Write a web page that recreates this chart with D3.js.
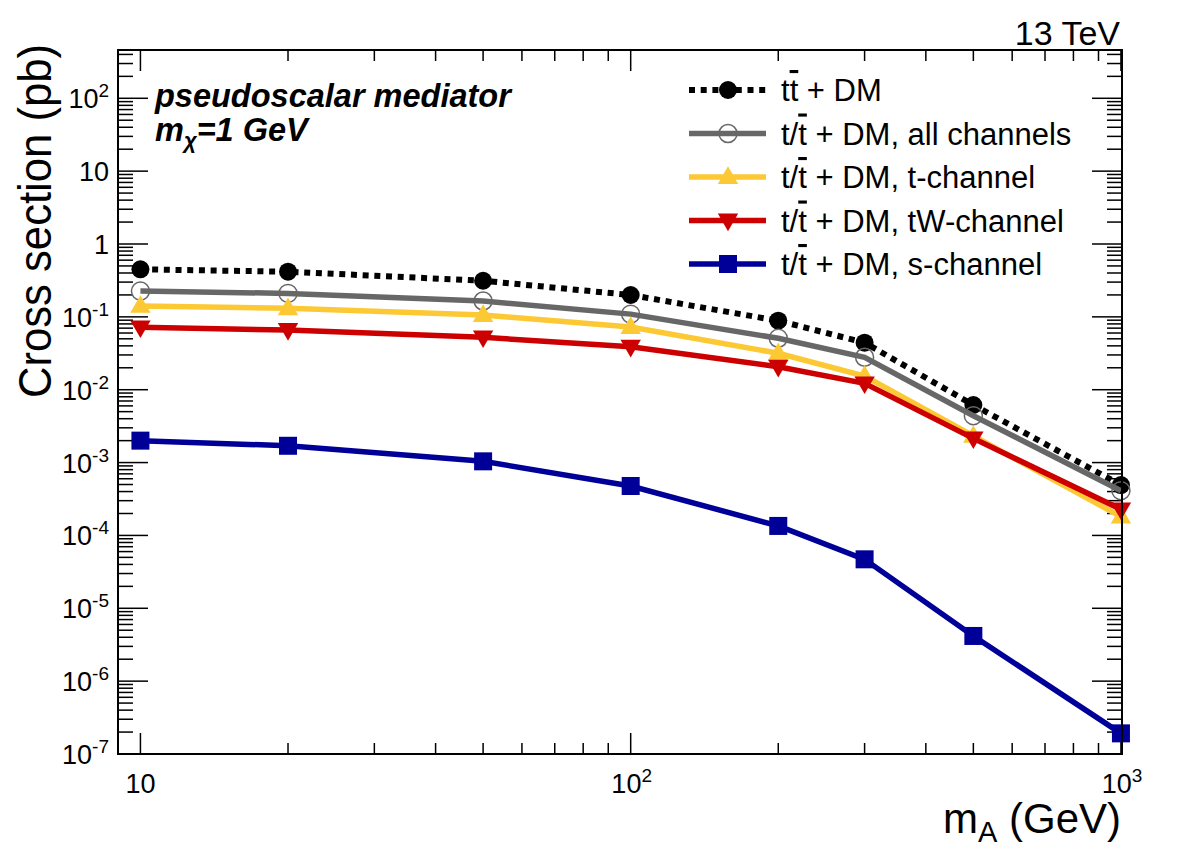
<!DOCTYPE html>
<meta charset="utf-8">
<script src="https://d3js.org/d3.v7.min.js"></script>
<style>
body { margin: 0; background: #fff; }
text { font-family: "Liberation Sans", Arial, Helvetica, sans-serif; }
</style>
<div id="chart"></div>
<script>

// masses (GeV)
var massA = [10, 20, 50, 100, 200, 300, 500, 1000];

// cross sections (pb)
var ttDM      = [0.449, 0.417, 0.313, 0.1995, 0.0885, 0.0442, 0.00617, 4.92e-4];
var tAll      = [0.226, 0.210, 0.165, 0.109, 0.0508, 0.0279, 0.00440, 4.11e-4];
var tChannel  = [0.141, 0.131, 0.106, 0.0726, 0.0316, 0.0154, 0.00232, 1.81e-4];
var tWChannel = [0.0718, 0.066, 0.0524, 0.0389, 0.0207, 0.01225, 0.00215, 2.28e-4];
var sChannel  = [0.0020, 0.0017, 0.00104, 4.77e-4, 1.35e-4, 4.70e-5, 4.17e-6, 1.92e-7];

var seriesNames = ["t\u0305t + DM", "t/\u0305t + DM, all channels", "t/\u0305t + DM, t-channel",
                   "t/\u0305t + DM, tW-channel", "t/\u0305t + DM, s-channel"];

// tick label exponents
var xLabelExps = [1, 2, 3];
var yLabelExps = [-7, -6, -5, -4, -3, -2, -1, 0, 1, 2];

var series = [
  {name: "tt", values: ttDM, color: "#000000", marker: "circle", dash: "6,5.7", width: 6},
  {name: "all", values: tAll, color: "#676767", marker: "open", dash: null, width: 5.5},
  {name: "t", values: tChannel, color: "#fcc934", marker: "up", dash: null, width: 5.5},
  {name: "tW", values: tWChannel, color: "#cc0000", marker: "down", dash: null, width: 5.5},
  {name: "s", values: sChannel, color: "#000099", marker: "square", dash: null, width: 5.5}
];

var W = 1182, H = 848;
var pLeft = 118, pRight = 1122, pTop = 50, pBottom = 754;

var svg = d3.select("#chart").append("svg")
  .attr("width", W).attr("height", H);

var x = d3.scaleLog().domain([9, 1005]).range([pLeft, pRight]);
var y = d3.scaleLog().domain([1e-7, 460]).range([pBottom, pTop]);

// ticks on all four sides
var isMajor = function(v) { return Math.abs(Math.log10(v) - Math.round(Math.log10(v))) < 1e-6; };
var xt = x.ticks().filter(function(v) { return v >= 9 && v <= 1005; });
var yt = y.ticks().filter(function(v) { return v >= 1e-7 && v <= 460; });

var tickG = svg.append("g").attr("stroke", "#000").attr("stroke-width", 1.5);
xt.forEach(function(v) {
  var len = isMajor(v) ? 21 : 11;
  tickG.append("line").attr("x1", x(v)).attr("x2", x(v)).attr("y1", pBottom).attr("y2", pBottom - len);
  tickG.append("line").attr("x1", x(v)).attr("x2", x(v)).attr("y1", pTop).attr("y2", pTop + len);
});
yt.forEach(function(v) {
  var len = isMajor(v) ? 30 : 15;
  tickG.append("line").attr("x1", pLeft).attr("x2", pLeft + len).attr("y1", y(v)).attr("y2", y(v));
  tickG.append("line").attr("x1", pRight).attr("x2", pRight - len).attr("y1", y(v)).attr("y2", y(v));
});

// tick labels
function powerLabel(sel, e) {
  if (e === 0) { sel.text("1"); return; }
  if (e === 1) { sel.text("10"); return; }
  sel.append("tspan").text("10");
  sel.append("tspan").attr("dy", -11).attr("font-size", 19).text(e);
}
xLabelExps.forEach(function(e) {
  var t = svg.append("text")
    .attr("x", x(Math.pow(10, e)) + (e === 1 ? 0 : 1)).attr("y", 793)
    .attr("text-anchor", "middle").attr("font-size", 27);
  powerLabel(t, e);
});
yLabelExps.forEach(function(e) {
  var t = svg.append("text")
    .attr("x", 109).attr("y", y(Math.pow(10, e)) + 10)
    .attr("text-anchor", "end").attr("font-size", 27);
  powerLabel(t, e);
});

// series lines + markers
var line = d3.line()
  .x(function(d) { return x(d[0]); })
  .y(function(d) { return y(d[1]); });

function drawMarker(g, s, cx, cy) {
  if (s.marker === "circle") {
    g.append("circle").attr("cx", cx).attr("cy", cy).attr("r", 9).attr("fill", s.color);
  } else if (s.marker === "open") {
    g.append("circle").attr("cx", cx).attr("cy", cy).attr("r", 9)
      .attr("fill", "none").attr("stroke", s.color).attr("stroke-width", 1.5);
  } else if (s.marker === "square") {
    g.append("rect").attr("x", cx - 9).attr("y", cy - 9).attr("width", 18).attr("height", 18).attr("fill", s.color);
  } else if (s.marker === "up") {
    g.append("path").attr("d", d3.symbol().type(d3.symbolTriangle).size(180)())
      .attr("transform", "translate(" + cx + "," + (cy + 1) + ")").attr("fill", s.color);
  } else if (s.marker === "down") {
    g.append("path").attr("d", d3.symbol().type(d3.symbolTriangle).size(180)())
      .attr("transform", "translate(" + cx + "," + (cy - 1) + ") rotate(180)").attr("fill", s.color);
  }
}

series.forEach(function(s) {
  var pts = massA.map(function(m, i) { return [m, s.values[i]]; });
  var g = svg.append("g");
  g.append("path").datum(pts)
    .attr("d", line)
    .attr("fill", "none")
    .attr("stroke", s.color)
    .attr("stroke-width", s.width)
    .attr("stroke-dasharray", s.dash);
  pts.forEach(function(p) { drawMarker(g, s, x(p[0]), y(p[1])); });
});

// frame
svg.append("rect")
  .attr("x", pLeft).attr("y", pTop).attr("width", pRight - pLeft).attr("height", pBottom - pTop)
  .attr("fill", "none").attr("stroke", "#000").attr("stroke-width", 2);

// legend
var legY = [90, 133.5, 177, 220.5, 264];
series.forEach(function(s, i) {
  var g = svg.append("g");
  g.append("line").attr("x1", 689).attr("x2", 766).attr("y1", legY[i]).attr("y2", legY[i])
    .attr("stroke", s.color).attr("stroke-width", s.width).attr("stroke-dasharray", s.dash);
  drawMarker(g, s, 728, legY[i]);
  var t = g.append("text").attr("x", 781).attr("y", legY[i] + 11).attr("font-size", 31);
  var parts = seriesNames[i].split("\u0305");
  t.append("tspan").text(parts[0]);
  t.append("tspan").attr("text-decoration", "overline").text(parts[1].charAt(0));
  t.append("tspan").text(parts[1].slice(1));
});

// annotations
svg.append("text").attr("x", 1120).attr("y", 45).attr("text-anchor", "end")
  .attr("font-size", 34).text("13 TeV");

svg.append("text").attr("x", 155).attr("y", 107)
  .attr("font-size", 32.5).attr("font-weight", "bold").attr("font-style", "italic")
  .text("pseudoscalar mediator");

var mchi = svg.append("text").attr("x", 155).attr("y", 141)
  .attr("font-size", 32.5).attr("font-weight", "bold").attr("font-style", "italic");
mchi.append("tspan").text("m");
mchi.append("tspan").attr("dy", 7).attr("font-size", 22).text("\u03c7");
mchi.append("tspan").attr("dy", -7).text("=1 GeV");

// axis titles
svg.append("text")
  .attr("transform", "translate(51,44) rotate(-90)")
  .attr("text-anchor", "end").attr("font-size", 47)
  .attr("textLength", 354).attr("lengthAdjust", "spacingAndGlyphs")
  .text("Cross section (pb)");

var xt2 = svg.append("text").attr("x", 1121).attr("y", 833)
  .attr("text-anchor", "end").attr("font-size", 42);
xt2.append("tspan").text("m");
xt2.append("tspan").attr("dy", 9).attr("font-size", 29).text("A");
xt2.append("tspan").attr("dy", -9).text(" (GeV)");

</script>
